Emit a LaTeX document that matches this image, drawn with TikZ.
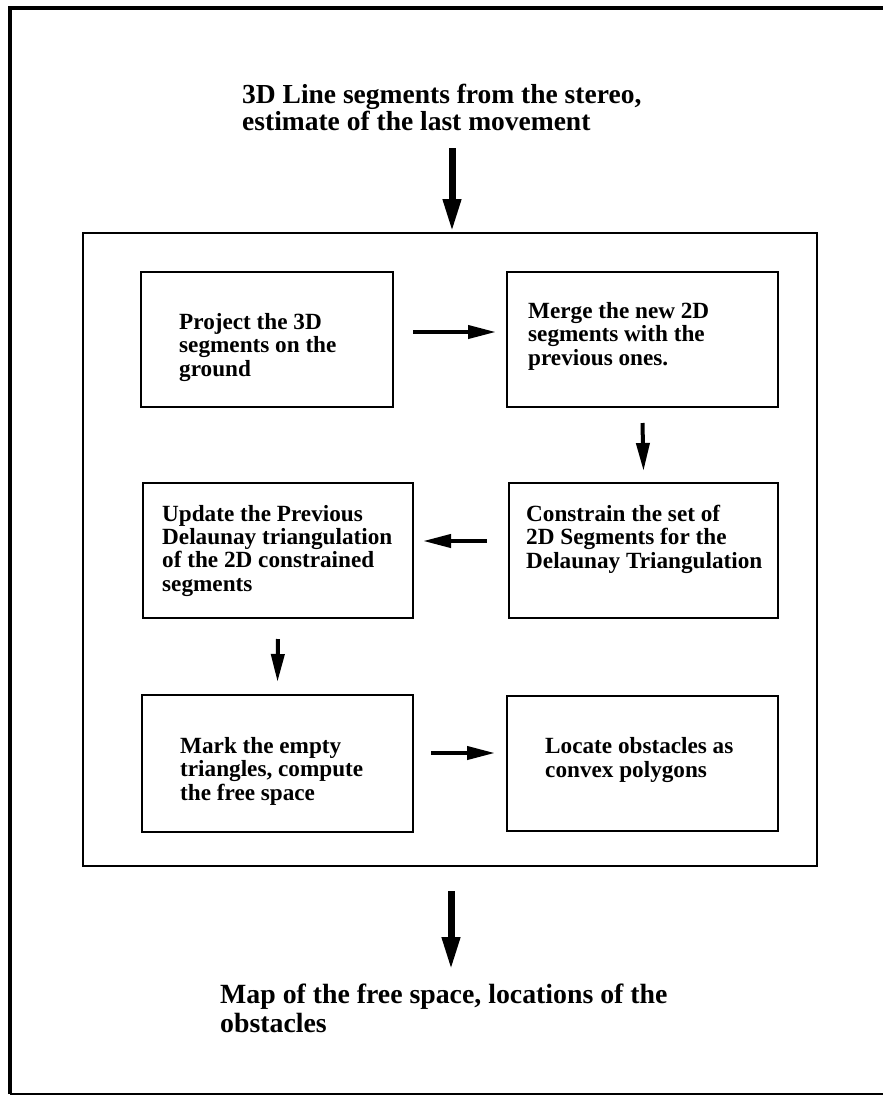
\documentclass[tikz,border=0pt]{standalone}
\usepackage{fontspec}
\setmainfont{Liberation Serif}
\usetikzlibrary{arrows.meta,positioning}

\begin{document}
\begin{tikzpicture}[x=1pt, y=-1pt]
		\tikzstyle{step box}
		=[draw, line width=2pt, minimum height=135pt, inner sep=0pt]
		\tikzstyle{step text}
		=[anchor=base west, align=left, inner sep=0pt, font=\fontsize{23.2}{23.3}\selectfont\bfseries]
		\tikzstyle{io text}
		=[anchor=base west, align=left, inner sep=0pt]
		\tikzstyle{small arrow}
		=[line width=4pt, -{Triangle[length=28pt,width=13pt]}]
		\tikzstyle{big arrow}
		=[line width=7pt, -{Triangle[length=33pt,width=17pt]}]
		
		\useasboundingbox (0,0) rectangle (883,1096);
		
		% Outer frame of the figure
		\draw[line width=4pt] (9.5,1094) -- (9.5,8) -- (890,8);
		\draw[line width=1.5pt] (9.5,1094) -- (890,1094);
		
		% Input and frame of the method
		\node[io text, font=\fontsize{27.5}{27}\selectfont\bfseries] (input) at (242,130)
		{3D Line segments from the stereo,\\estimate of the last movement};
		\node[draw, line width=2pt, minimum width=734pt, minimum height=633pt] (frame) at (450,549.5) {};
		
		% Draw the step boxes
		\node[step box, minimum width=252pt] (project) at (267,339.5) {};
		\node[step box, minimum width=271pt] (merge) at (642.5,339.5) {};
		\node[step box, minimum width=270pt] (update) at (278,550.5) {};
		\node[step box, minimum width=269pt] (constrain) at (643.5,550.5) {};
		\node[step box, minimum width=271pt, minimum height=137pt] (mark) at (277.5,763.5) {};
		\node[step box, minimum width=271pt] (locate) at (642.5,763.5) {};
		
		% Texts of the steps (placed by the baseline of their last line)
		\node[step text] (project-t) at ([shift={(39,105)}]project.north west)
		{Project the 3D\\segments on the\\ground};
		\node[step text] (merge-t) at ([shift={(22,94)}]merge.north west)
		{Merge the new 2D\\segments with the\\previous ones.};
		\node[step text] (update-t) at ([shift={(20,109)}]update.north west)
		{Update the Previous\\Delaunay triangulation\\of the 2D constrained\\segments};
		\node[step text] (constrain-t) at ([shift={(18,86)}]constrain.north west)
		{Constrain the set of\\2D Segments for the\\Delaunay Triangulation};
		\node[step text] (mark-t) at ([shift={(39,106)}]mark.north west)
		{Mark the empty\\triangles, compute\\the free space};
		\node[step text] (locate-t) at ([shift={(39,82)}]locate.north west)
		{Locate obstacles as\\convex polygons};
		
		% Output of the method
		\node[io text, font=\fontsize{27.8}{29}\selectfont\bfseries] (output) at (220,1032)
		{Map of the free space, locations of the\\obstacles};
		
		% Connect the steps
		\coordinate (in-start) at (452,148);
		\draw[big arrow] (in-start) -- (in-start |- frame.north);
		\draw[small arrow] ([shift={(19,-7.5)}]project.east) -- ([shift={(-10,-7.5)}]merge.west);
		\draw[small arrow] ([shift={(0,15)}]merge.south) -- ([shift={(0,-11)}]constrain.north);
		\draw[small arrow] ([shift={(-21,-9.5)}]constrain.west) -- ([shift={(9,-9.5)}]update.east);
		\draw[small arrow] ([shift={(0,20)}]update.south) -- ([shift={(0,-12)}]mark.north);
		\draw[small arrow] ([shift={(17,-10.5)}]mark.east) -- ([shift={(-11,-10.5)}]locate.west);
		\draw[big arrow] ([shift={(1,24)}]frame.south) -- ([shift={(1,103)}]frame.south);
	\end{tikzpicture}
\end{document}
